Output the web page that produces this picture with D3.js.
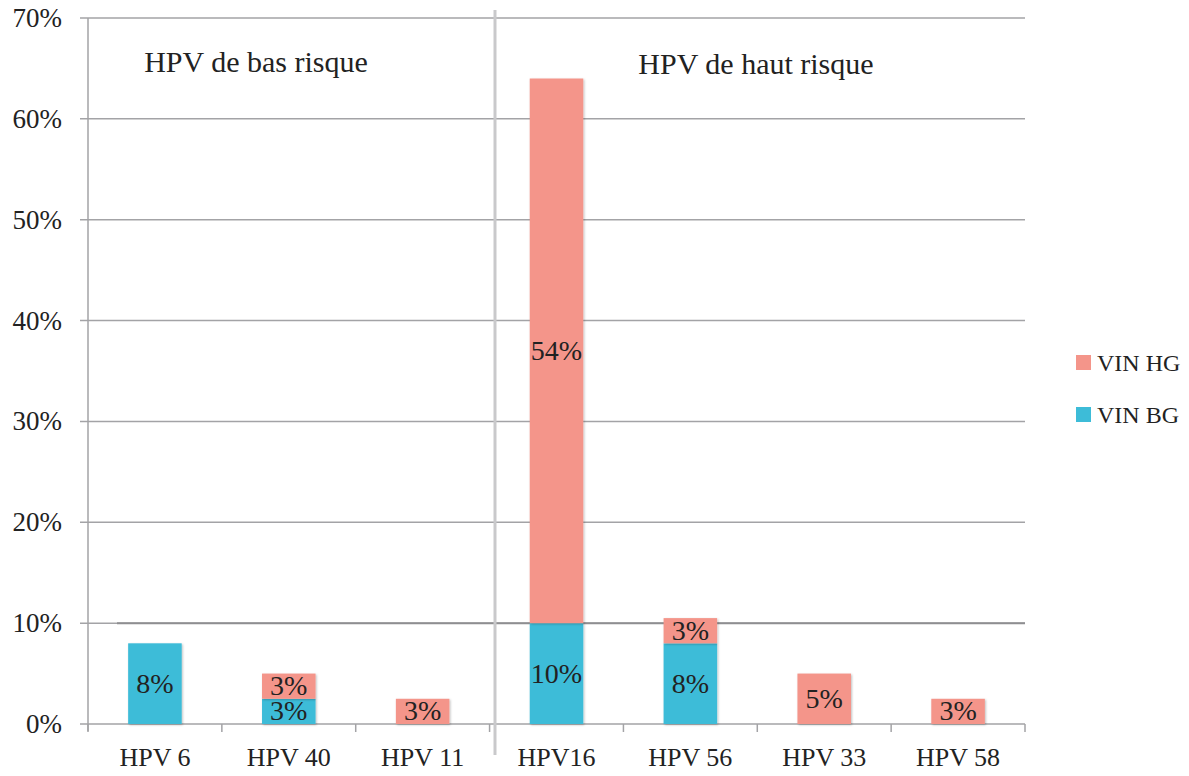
<!DOCTYPE html>
<html><head><meta charset="utf-8">
<script src="https://cdn.jsdelivr.net/npm/d3@7"></script>
<style>body{margin:0;background:#fff}svg{display:block}text{font-family:"Liberation Serif","DejaVu Serif",serif;fill:#222}</style>
</head><body><svg id="c" width="1189" height="776"></svg>
<script>
const categories = ["HPV 6","HPV 40","HPV 11","HPV16","HPV 56","HPV 33","HPV 58"];
const vinBG = [8, 2.5, 0, 10, 8, 0, 0];
const vinHG = [0, 2.5, 2.5, 54, 2.5, 5, 2.5];
const labelsBG = ["8%","3%","","10%","8%","",""];
const labelsHG = ["","3%","3%","54%","3%","5%","3%"];
const yTicks = [0,10,20,30,40,50,60,70];
const groupTitles = ["HPV de bas risque","HPV de haut risque"];
const seriesNames = ["VIN HG","VIN BG"];
const colors = {HG:"#f4958a", BG:"#3dbcd8"};

const svg = d3.select("#c");
const L=88, R=1025, T=18, B=724;
const x = d3.scaleBand().domain(categories).range([L,R]).padding(0);
const y = d3.scaleLinear().domain([0,70]).range([B,T]);
const bw = x.bandwidth()*0.4;

svg.append("g").selectAll("line").data(yTicks).join("line")
  .attr("x1",L-8).attr("x2",R).attr("y1",d=>y(d)).attr("y2",d=>y(d))
  .attr("stroke","#a3a3a6").attr("stroke-width",1.5);
svg.append("line").attr("x1",L).attr("x2",L).attr("y1",T).attr("y2",B+7).attr("stroke","#a3a3a6").attr("stroke-width",1.5);
const bounds = categories.map(c=>x(c)).concat([R]);
svg.append("g").selectAll("line").data(bounds).join("line")
  .attr("x1",d=>d).attr("x2",d=>d).attr("y1",B).attr("y2",B+8)
  .attr("stroke","#a3a3a6").attr("stroke-width",1.5);
svg.append("line").attr("x1",117).attr("x2",R).attr("y1",y(10)).attr("y2",y(10)).attr("stroke","#8e8e91").attr("stroke-width",2);
svg.append("g").selectAll("text").data(yTicks).join("text")
  .attr("x",L-26).attr("y",d=>y(d)+9).attr("text-anchor","end").attr("font-size",27)
  .text(d=>d+"%");
svg.append("g").selectAll("text").data(categories).join("text")
  .attr("x",d=>x(d)+x.bandwidth()/2).attr("y",766).attr("text-anchor","middle").attr("font-size",26)
  .text(d=>d);

const defs = svg.append("defs");
const f = defs.append("filter").attr("id","sh").attr("x","-20%").attr("y","-20%").attr("width","140%").attr("height","140%");
f.append("feDropShadow").attr("dx",1).attr("dy",1).attr("stdDeviation",1.2).attr("flood-color","#000").attr("flood-opacity",0.25);

const bars = svg.append("g");
categories.forEach((c,i)=>{
  const cx = x(c)+x.bandwidth()/2;
  if (vinBG[i]>0) bars.append("rect").attr("x",cx-bw/2).attr("width",bw)
    .attr("y",y(vinBG[i])).attr("height",y(0)-y(vinBG[i])).attr("fill",colors.BG).attr("filter","url(#sh)");
  if (vinHG[i]>0) bars.append("rect").attr("x",cx-bw/2).attr("width",bw)
    .attr("y",y(vinBG[i]+vinHG[i])).attr("height",y(vinBG[i])-y(vinBG[i]+vinHG[i])).attr("fill",colors.HG).attr("filter","url(#sh)");
});
categories.forEach((c,i)=>{
  const cx = x(c)+x.bandwidth()/2;
  if (labelsBG[i]) bars.append("text").attr("x",cx).attr("y",(y(0)+y(vinBG[i]))/2+9)
    .attr("text-anchor","middle").attr("font-size",28).text(labelsBG[i]);
  if (labelsHG[i]) bars.append("text").attr("x",cx).attr("y",(y(vinBG[i])+y(vinBG[i]+vinHG[i]))/2+9)
    .attr("text-anchor","middle").attr("font-size",28).text(labelsHG[i]);
});

svg.append("line").attr("x1",495).attr("x2",495).attr("y1",10).attr("y2",755).attr("stroke","#c9c9cb").attr("stroke-width",3);

svg.append("text").attr("x",256).attr("y",72).attr("text-anchor","middle").attr("font-size",30).text(groupTitles[0]);
svg.append("text").attr("x",756).attr("y",74).attr("text-anchor","middle").attr("font-size",30).text(groupTitles[1]);

const leg = svg.append("g");
[[seriesNames[0],colors.HG,363],[seriesNames[1],colors.BG,415]].forEach(([n,col,yy])=>{
  leg.append("rect").attr("x",1076).attr("y",yy-8).attr("width",15).attr("height",15).attr("fill",col);
  leg.append("text").attr("x",1097).attr("y",yy+8).attr("font-size",24).text(n);
});
</script></body></html>
